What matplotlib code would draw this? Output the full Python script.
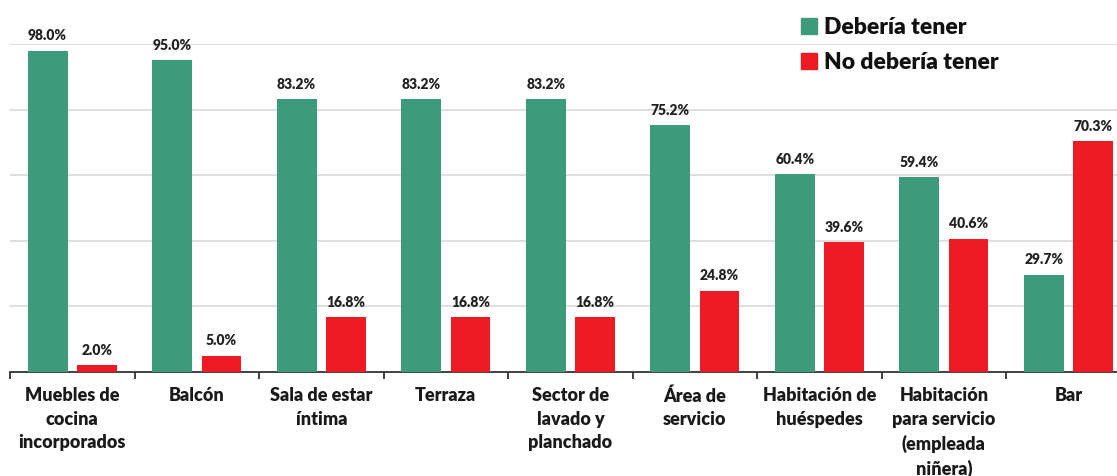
import numpy as np
import matplotlib.pyplot as plt
from matplotlib.patches import Patch

categories = ["Muebles de\ncocina\nincorporados", "Balcón", "Sala de estar\níntima",
              "Terraza", "Sector de\nlavado y\nplanchado", "Área de\nservicio",
              "Habitación de\nhuéspedes", "Habitación\npara servicio\n(empleada\nniñera)", "Bar"]
deberia = [98.0, 95.0, 83.2, 83.2, 83.2, 75.2, 60.4, 59.4, 29.7]
no_deberia = [2.0, 5.0, 16.8, 16.8, 16.8, 24.8, 39.6, 40.6, 70.3]
series_names = ["Debería tener", "No debería tener"]

GREEN = "#3d9a7b"
RED = "#ed1c24"

plt.rcParams['font.family'] = ['Lato', 'DejaVu Sans']

fig = plt.figure(figsize=(11.17, 4.76), dpi=100)
ax = fig.add_axes([10 / 1117, 104 / 476, 1 - 10 / 1117, 328 / 476])

x = np.arange(len(categories))
off = 0.198
w = 0.32
b1 = ax.bar(x - off, deberia, w, color=GREEN, zorder=3)
b2 = ax.bar(x + off, no_deberia, w, color=RED, zorder=3)

# percentage on top of each bar
for bars, vals in ((b1, deberia), (b2, no_deberia)):
    for rect, v in zip(bars, vals):
        ax.annotate(f"{v:.1f}%", (rect.get_x() + rect.get_width() / 2, v),
                    xytext=(0, 6), textcoords="offset points", ha="center", va="bottom",
                    fontsize=10, fontweight="heavy", color="#222222", annotation_clip=False)

ax.set_ylim(0, 100)
ax.set_xlim(-0.5, 8.39)
ax.set_yticks([20, 40, 60, 80, 100])
ax.yaxis.grid(True, color="#d9d9d9", linewidth=1.2, zorder=0)
ax.tick_params(axis="y", left=False, labelleft=False)
for s in ("top", "right", "left"):
    ax.spines[s].set_visible(False)
ax.spines["bottom"].set_color("#333333")
ax.spines["bottom"].set_linewidth(1.3)

ax.set_xticks(x)
ax.set_xticklabels(categories, fontsize=13, fontweight="heavy", color="#1a1a1a", linespacing=1.45)
ax.tick_params(axis="x", which="major", length=0, pad=11)
# separators between categories
ax.set_xticks(np.arange(len(categories)) - 0.5, minor=True)
ax.tick_params(axis="x", which="minor", length=5, width=1.3, color="#333333")

handles = [Patch(color=GREEN), Patch(color=RED)]
leg = ax.legend(handles, series_names, loc="upper left", bbox_to_anchor=(801 / 1117, 1 - 17 / 476),
                bbox_transform=fig.transFigure, frameon=False, fontsize=16.5,
                handlelength=0.7, handleheight=0.7, handletextpad=0.3,
                labelspacing=0.6, borderpad=0, borderaxespad=0)
for t in leg.get_texts():
    t.set_fontweight("heavy")
    t.set_color("#111111")

fig.savefig("out.png", dpi=100)
